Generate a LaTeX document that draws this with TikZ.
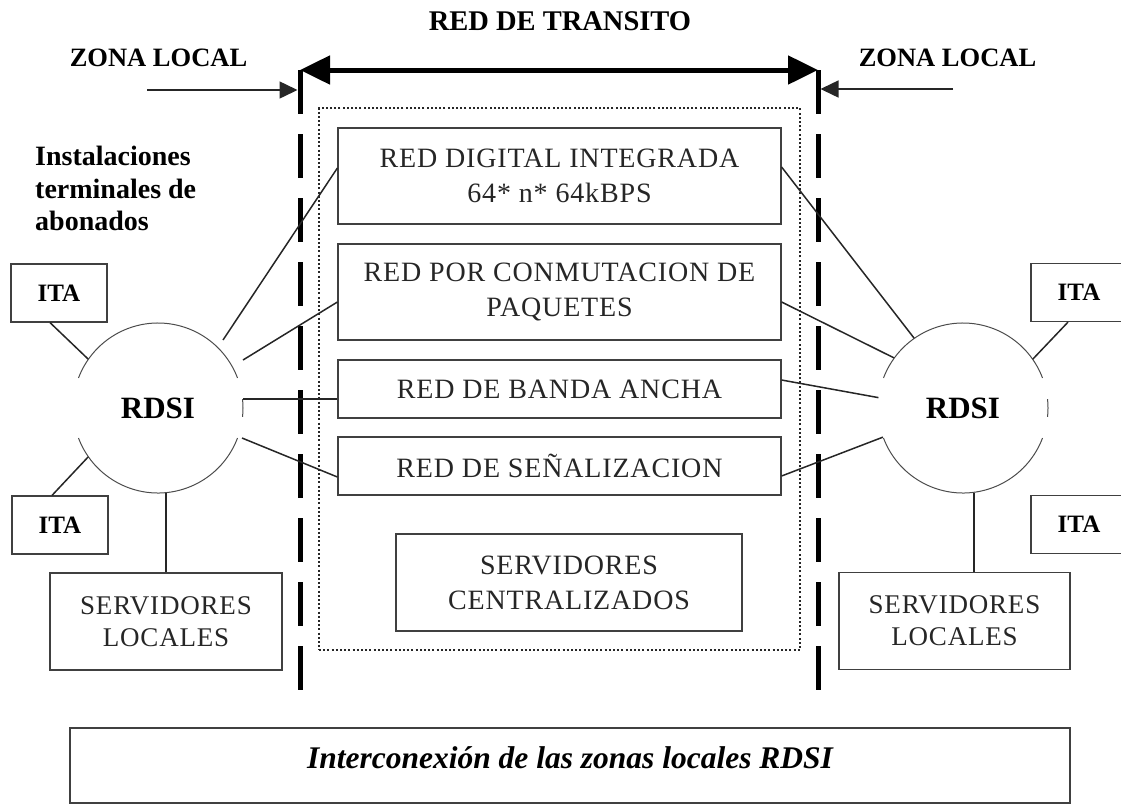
\documentclass[tikz,border=0pt]{standalone}
\usepackage{fontspec}
\setmainfont{Liberation Serif}
\newfontfamily\boxfont[LetterSpace=3]{Liberation Serif}
\usetikzlibrary{arrows.meta}
\begin{document}
\begin{tikzpicture}[x=1pt,y=1pt,
  box/.style={draw=black!75, line width=1.2pt, rectangle, inner sep=0pt, align=center,
    font=\boxfont\fontsize{28}{35}\selectfont, text=black!85},
  itabox/.style={draw=black!75, line width=1.2pt, rectangle, inner sep=0pt,
    minimum width=96, minimum height=58, font=\fontsize{25}{30}\selectfont\bfseries},
  slbox/.style={draw=black!75, line width=1.2pt, rectangle, inner sep=0pt, align=center,
    minimum width=232, minimum height=97, font=\boxfont\fontsize{27}{32}\selectfont, text=black!85},
  conn/.style={draw=black!85, line width=1.5pt},
  arcst/.style={draw=black!70, line width=1pt},
  bigarr/.style={draw=black, line width=5pt, {Triangle[length=30pt,width=28pt]}-{Triangle[length=30pt,width=28pt]}},
  smallarr/.style={draw=black!85, line width=1.5pt, -{Triangle[length=18pt,width=17pt]}},
  vdash/.style={draw=black, line width=5pt, dash pattern=on 44pt off 20pt},
  lbl/.style={inner sep=0pt, font=\fontsize{27}{32}\selectfont\bfseries},
  rdsi/.style={circle, minimum size=170, inner sep=0pt, font=\fontsize{31}{36}\selectfont\bfseries}
]
\useasboundingbox (0,0) rectangle (1121,-804);

% titles
\node[lbl, font=\fontsize{28.5}{34}\selectfont\bfseries] (title) at (560,-21) {RED DE TRANSITO};
\node[lbl, font=\fontsize{26.5}{32}\selectfont\bfseries] (zl) at (158.5,-57.5) {ZONA LOCAL};
\node[lbl, font=\fontsize{26.5}{32}\selectfont\bfseries] (zr) at (947.5,-57.5) {ZONA LOCAL};
\node[lbl, anchor=north west, align=left, font=\fontsize{28}{32.5}\selectfont\bfseries] (inst) at (35,-146)
  {Instalaciones\\terminales de\\abonados};

% boundary lines and arrows
\coordinate (LT) at (300,-70);
\coordinate (LB) at (300,-691);
\coordinate (RT) at (818,-70);
\coordinate (RB) at (818,-691);
\draw[vdash] (LT) -- (LB);
\draw[vdash] (RT) -- (RB);
\draw[bigarr] (LT) -- (RT);
\coordinate (las) at (147,-90);
\coordinate (ras) at (953,-89);
\draw[smallarr] (las) -- (297.5,-90);
\draw[smallarr] (ras) -- (820.5,-89);

% transit network frame
\node[draw=black!85, line width=2pt, dash pattern=on 2pt off 2.2pt, rectangle, inner sep=0pt,
  minimum width=481, minimum height=542] (frame) at (559.5,-379) {};

% boxes
\node[box, minimum width=443, minimum height=96] (b1) at (559.5,-176) {RED DIGITAL INTEGRADA\\64* n* 64kBPS};
\node[box, minimum width=443, minimum height=96] (b2) at (559.5,-292) {RED POR CONMUTACION DE\\PAQUETES};
\node[box, minimum width=443, minimum height=58] (b3) at (559.5,-389) {RED DE BANDA ANCHA};
\node[box, minimum width=443, minimum height=58] (b4) at (559.5,-466) {RED DE SEÑALIZACION};
\node[box, minimum width=346, minimum height=97] (b5) at (569,-582.5) {SERVIDORES\\CENTRALIZADOS};

% local zones
\node[itabox] (lita1) at (59,-293) {ITA};
\node[itabox] (lita2) at (60,-525) {ITA};
\node[itabox] (rita1) at (1079,-292.5) {ITA};
\node[itabox] (rita2) at (1079,-524.5) {ITA};
\node[slbox] (lsl) at (166,-621.5) {SERVIDORES\\LOCALES};
\node[slbox, minimum width=231] (rsl) at (954.5,-621) {SERVIDORES\\LOCALES};

\node[rdsi] (lc) at (158,-408) {RDSI};
\node[rdsi] (rc) at (963,-408) {RDSI};
\foreach \c in {lc,rc}{
  \draw[arcst] (\c.center) ++(20.7:85) arc[start angle=20.7,end angle=159.3,radius=85];
  \draw[arcst] (\c.center) ++(200.7:85) arc[start angle=200.7,end angle=339.3,radius=85];
  \draw[arcst] (\c.center) ++(-6:85) arc[start angle=-6,end angle=6,radius=85];
}

% left connectors
\coordinate (l1) at (223,-340);
\coordinate (l2) at (243,-360);
\coordinate (l3) at (243,-399);
\coordinate (l4) at (242,-438);
\draw[conn] (l1) -- ([yshift=8pt]b1.west);
\draw[conn] (l2) -- ([yshift=-10pt]b2.west);
\draw[conn] (l3) -- ([yshift=-10pt]b3.west);
\draw[conn] (l4) -- ([yshift=-11pt]b4.west);
\draw[conn] ([xshift=-9pt]lita1.south) -- (lc.145);
\draw[conn] ([xshift=-8pt]lita2.north) -- (lc.215);
\draw[conn, line width=1.2pt] (lsl.north) -- (lsl.north |- lc.south);

% right connectors
\draw[conn] ([yshift=9pt]b1.east) -- (rc.125.5);
\draw[conn] ([yshift=-10pt]b2.east) -- (rc.144.5);
\draw[conn] ([yshift=9pt]b3.east) -- (rc.173.4);
\draw[conn] ([yshift=-10pt]b4.east) -- (rc.200.4);
\draw[conn] ([xshift=-11pt]rita1.south) -- (rc.35.5);
\draw[conn, line width=1.2pt] ([xshift=19.5pt]rsl.north) -- ([xshift=19.5pt]rsl.north |- rc.south);

% bottom box
\node[draw=black!75, line width=1.2pt, rectangle, inner sep=0pt, minimum width=1000, minimum height=75] (bot) at (570,-765.5) {};
\node[inner sep=0pt, font=\fontsize{31.5}{36}\selectfont\bfseries\itshape] (bottxt) at (570,-758)
  {Interconexión de las zonas locales RDSI};
\end{tikzpicture}
\end{document}
